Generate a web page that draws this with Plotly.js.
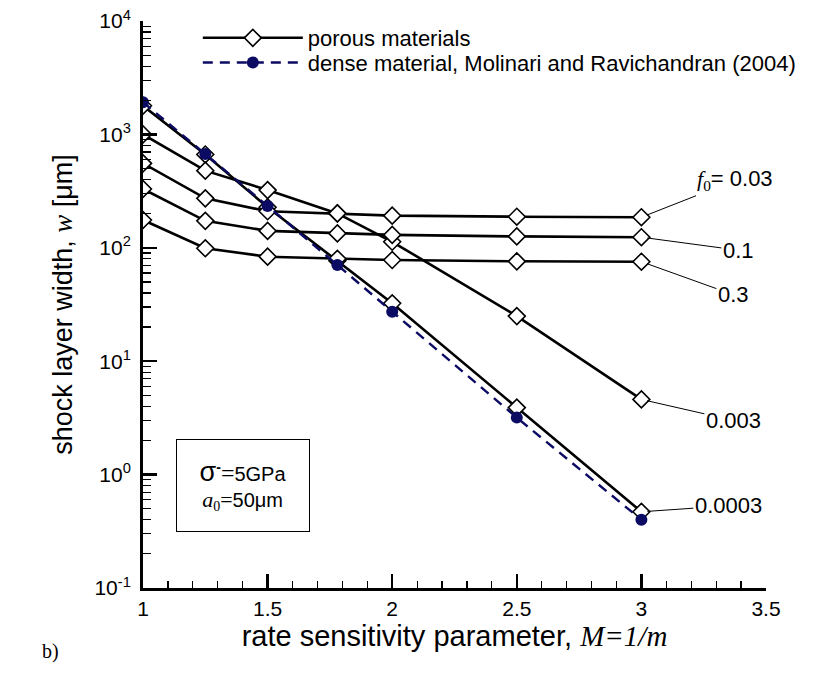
<!DOCTYPE html>
<html>
<head>
<meta charset="utf-8">
<script src="https://cdn.plot.ly/plotly-3.0.1.min.js"></script>
<style>html,body{margin:0;padding:0;background:#fff;}#chart{width:828px;height:677px;}</style>
</head>
<body>
<div id="chart"></div>
<script>
// ---- data ----
const M = [1, 1.25, 1.5, 1.78, 2, 2.5, 3];
const w_f0_0003 = [1790, 665, 228, 77, 32.4, 3.9, 0.47];
const w_f0_003  = [1000, 479, 323, 201, 113, 25, 4.6];
const w_f0_03   = [556, 273, 210, 201, 192, 188, 186];
const w_f0_1    = [330, 173, 141, 134, 130, 126, 124];
const w_f0_3    = [176, 99, 83.5, 80, 78, 76, 75.4];
const w_dense   = [1920, 672, 234, 70.5, 27.3, 3.18, 0.40];
const f0Labels  = ['0.0003', '0.003',
  '<i style="font-family:Liberation Serif">f</i><sub style="font-family:Liberation Serif">0</sub>= 0.03',
  '0.1', '0.3'];
const porousSeries = [w_f0_0003, w_f0_003, w_f0_03, w_f0_1, w_f0_3];
const yTickVals = [0.1, 1, 10, 100, 1000, 10000];
const yTickText = ['10<sup>-1</sup>', '10<sup>0</sup>', '10<sup>1</sup>', '10<sup>2</sup>', '10<sup>3</sup>', '10<sup>4</sup>'];
const xTickVals = [1, 1.5, 2, 2.5, 3, 3.5];
const xTickText = ['1', '1.5', '2', '2.5', '3', '3.5'];
const legendNames = ['porous materials', 'dense material, Molinari and Ravichandran (2004)'];

// ---- styles (not data) ----
const labelOffsets = [[87, -6], [92, 21], [94, -37], [97, 13], [92, 33]];
const NAVY = '#0b0b63';
const SANS = 'Liberation Sans, Arial, sans-serif';
const SERIF = 'Liberation Serif, Times New Roman, serif';

const minorY = [];
for (let e = -1; e < 4; e++) for (let k = 2; k <= 9; k++) minorY.push(k * Math.pow(10, e));

const traces = [];
porousSeries.forEach((ys, i) => {
  traces.push({
    x: M, y: ys, type: 'scatter', mode: 'lines+markers',
    name: legendNames[0], legendgroup: 'porous', showlegend: i === 0, legend: 'legend',
    line: {color: '#000', width: 2.6},
    marker: {symbol: 'diamond', size: 13, color: '#fff', line: {color: '#000', width: 1.6}}
  });
});
traces.push({
  x: M, y: w_dense, type: 'scatter', mode: 'lines+markers',
  name: legendNames[1], legend: 'legend2',
  line: {color: NAVY, width: 2.4, dash: '10px,7px'},
  marker: {symbol: 'circle', size: 12, color: NAVY}
});

const annotations = porousSeries.map((ys, i) => ({
  x: M[M.length - 1], y: Math.log10(ys[ys.length - 1]), xref: 'x', yref: 'y',
  text: f0Labels[i], showarrow: true, arrowhead: 0, arrowwidth: 1, arrowcolor: '#000',
  ax: labelOffsets[i][0], ay: labelOffsets[i][1], standoff: 6,
  font: {family: SANS, size: 22, color: '#000'}
}));
annotations.push({
  xref: 'paper', yref: 'paper', x: 0.160, y: 0.181, xanchor: 'center', yanchor: 'middle',
  showarrow: false, bordercolor: '#000', borderwidth: 1, borderpad: 4,
  width: 124, height: 83, align: 'center',
  text: '<span style="font-size:27px">σ</span><sup><b>-</b></sup><span style="font-family:Liberation Serif;font-size:24px">=</span>5GPa<br><i style="font-family:Liberation Serif;font-size:22px">a</i><sub style="font-family:Liberation Serif">0</sub><span style="font-family:Liberation Serif;font-size:22px">=</span>50μm',
  font: {family: SANS, size: 20, color: '#000'}
});
annotations.push({
  xref: 'paper', yref: 'paper', x: -0.165, y: -0.112, xanchor: 'left', yanchor: 'middle',
  showarrow: false, text: 'b)', font: {family: SERIF, size: 20, color: '#000'}
});

const legendCommon = {x: 0.088, xanchor: 'left', yanchor: 'middle', bgcolor: 'rgba(0,0,0,0)',
  font: {family: SANS, size: 22, color: '#000'}, itemwidth: 100, tracegroupgap: 0, borderwidth: 0};

const layout = {
  width: 828, height: 677,
  margin: {l: 143, r: 62, t: 21, b: 89},
  paper_bgcolor: '#fff', plot_bgcolor: '#fff',
  font: {family: SANS, size: 21, color: '#000'},
  showlegend: true,
  legend: Object.assign({}, legendCommon, {y: 0.970}),
  legend2: Object.assign({}, legendCommon, {y: 0.9265}),
  xaxis: {
    range: [1, 3.5], showline: true, linewidth: 3, linecolor: '#000', mirror: false,
    showgrid: false, zeroline: false,
    tickmode: 'array', tickvals: xTickVals, ticktext: xTickText,
    ticks: 'inside', ticklen: 14, tickwidth: 2.5, tickcolor: '#000',
    minor: {dtick: 0.1, ticks: 'inside', ticklen: 7, tickwidth: 1.2, tickcolor: '#000', showgrid: false},
    tickfont: {family: SANS, size: 21},
    title: {text: 'rate sensitivity parameter, <i style="font-family:Liberation Serif">M=1/m</i>',
            font: {family: SANS, size: 29}, standoff: 5}
  },
  yaxis: {
    type: 'log', range: [-1, 4], showline: true, linewidth: 3, linecolor: '#000', mirror: false,
    showgrid: false, zeroline: false,
    tickmode: 'array', tickvals: yTickVals, ticktext: yTickText,
    ticks: 'inside', ticklen: 14, tickwidth: 2.5, tickcolor: '#000',
    ticklabelstandoff: 5,
    minor: {tickmode: 'array', tickvals: minorY, ticks: 'inside', ticklen: 8, tickwidth: 1.2, tickcolor: '#000', showgrid: false},
    tickfont: {family: SANS, size: 21},
    title: {text: 'shock layer width, <i style="font-family:Liberation Serif">w</i> [μm]',
            font: {family: SANS, size: 27}, standoff: 14}
  },
  annotations: annotations
};

Plotly.newPlot('chart', traces, layout, {displayModeBar: false, staticPlot: true});
</script>
</body>
</html>
